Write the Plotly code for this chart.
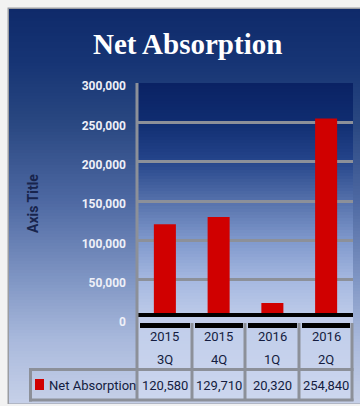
import plotly.graph_objects as go

# ---- data ----
years = ["2015", "2015", "2016", "2016"]
quarters = ["3Q", "4Q", "1Q", "2Q"]
categories = [f"{y} {q}" for y, q in zip(years, quarters)]
net_absorption = [120580, 129710, 20320, 254840]
series_name = "Net Absorption"
y_ticks = [0, 50000, 100000, 150000, 200000, 250000, 300000]

# ---- geometry (pixels) ----
W, H = 360, 406
L, R, T, B = 138, 7, 83, 87
PW, PH = W - L - R, H - T - B


def px(x):
    return (x - L) / PW


def py(y):
    return (H - B - y) / PH


def hex2rgb(h):
    h = h.lstrip("#")
    return tuple(int(h[i:i + 2], 16) for i in (0, 2, 4))


def lerp_color(stops, y):
    for (y0, c0), (y1, c1) in zip(stops, stops[1:]):
        if y0 <= y <= y1:
            t = (y - y0) / (y1 - y0) if y1 > y0 else 0
            a, b = hex2rgb(c0), hex2rgb(c1)
            return "rgb(%d,%d,%d)" % tuple(round(a[i] + (b[i] - a[i]) * t) for i in range(3))
    return stops[-1][1]


def gradient(x0, x1, y0, y1, stops, step=3):
    out = []
    y = y0
    while y < y1:
        yb = min(y + step, y1)
        out.append(dict(type="rect", xref="paper", yref="paper", layer="below",
                        x0=px(x0), x1=px(x1), y0=py(yb + 0.5), y1=py(y),
                        fillcolor=lerp_color(stops, y + step / 2), line_width=0))
        y = yb
    return out


chart_stops = [(9, "#0f2a6a"), (60, "#163474"), (120, "#284680"), (200, "#4d68a2"),
               (280, "#8096c4"), (340, "#a9b9dc"), (403, "#c6d0e8")]
plot_stops = [(83, "#0a2264"), (120, "#0f2c70"), (160, "#24448a"), (200, "#5470aa"),
              (240, "#7f98cc"), (280, "#a5b8e0"), (320, "#c0cdea"), (400, "#ccd6ee")]

shapes = []
# chart frame
shapes.append(dict(type="rect", xref="paper", yref="paper", layer="below",
                   x0=px(7.5), x1=px(362), y0=py(404), y1=py(7.5),
                   fillcolor="#9a9ca2", line_width=0))
shapes += gradient(9, 360, 9, 403, chart_stops)
shapes += gradient(138, 353, 83, 400, plot_stops)

GRID = "#8c9099"


def rect(x0, x1, y0, y1, color, layer="above"):
    return dict(type="rect", xref="paper", yref="paper", layer=layer,
                x0=px(x0), x1=px(x1), y0=py(y1), y1=py(y0),
                fillcolor=color, line_width=0)


# band under the axis: thick black rule, light gap, segmented black rule
shapes.append(rect(137, 353, 313, 317, "#000000"))
shapes.append(rect(137, 353, 317, 323, "#c2cdea"))
col_edges = [137, 192, 245, 299, 352]
for a, b in zip(col_edges[:-1], col_edges[1:]):
    shapes.append(rect(a + 3, b - 2, 323, 328, "#000000"))
# table borders
for xe in col_edges:
    shapes.append(rect(xe - 1.5, xe + 1.5, 323 if xe != 137 else 83, 401, GRID))
shapes.append(rect(29, 353.5, 368, 371, GRID))
shapes.append(rect(29, 353.5, 398.5, 401.5, GRID))
shapes.append(rect(29, 32, 368, 401.5, GRID))
# legend key
shapes.append(rect(35, 44, 379, 390, "#d00000"))

fig = go.Figure(go.Bar(
    x=categories, y=net_absorption, name=series_name,
    marker=dict(color="#d00000", line_width=0),
))

TABLE_TEXT = "#141c40"
annotations = [
    dict(text="<b>Net Absorption</b>", xref="paper", yref="paper",
         x=px(187.5), y=py(44), xanchor="center", yanchor="middle", showarrow=False,
         font=dict(family="Liberation Serif", size=29, color="#ffffff")),
    dict(text="<b>Axis Title</b>", xref="paper", yref="paper", textangle=-90,
         x=px(33), y=py(204), xanchor="center", yanchor="middle", showarrow=False,
         font=dict(family="Roboto", size=14, color="#18244c")),
    dict(text=series_name, xref="paper", yref="paper",
         x=px(47), y=py(385), xanchor="left", yanchor="middle", showarrow=False,
         font=dict(family="Roboto", size=13, color=TABLE_TEXT)),
]
for c, yr, q, v in zip(categories, years, quarters, net_absorption):
    annotations.append(dict(text=yr, xref="x", yref="paper", x=c, y=py(336),
                            xanchor="center", yanchor="middle", showarrow=False,
                            font=dict(family="Roboto", size=13, color=TABLE_TEXT)))
    annotations.append(dict(text=q, xref="x", yref="paper", x=c, y=py(359),
                            xanchor="center", yanchor="middle", showarrow=False,
                            font=dict(family="Roboto", size=13, color=TABLE_TEXT)))
    annotations.append(dict(text=f"{v:,}", xref="x", yref="paper", x=c, y=py(385),
                            xanchor="center", yanchor="middle", showarrow=False,
                            font=dict(family="Roboto", size=13, color=TABLE_TEXT)))

fig.update_layout(
    width=W, height=H,
    margin=dict(l=L, r=R, t=T, b=B, pad=0),
    paper_bgcolor="#f2f2f2",
    plot_bgcolor="rgba(0,0,0,0)",
    showlegend=False,
    bargap=0.59,
    shapes=shapes,
    annotations=annotations,
    xaxis=dict(range=[-0.5, 3.5], showticklabels=False, showgrid=False,
               zeroline=False, showline=False, ticks=""),
    yaxis=dict(range=[0, 300000], tickvals=y_ticks, tickformat=",",
               showgrid=True, gridcolor=GRID, gridwidth=3, zeroline=False,
               showline=False, ticks="", ticklabelstandoff=11, ticklabelshift=3,
               tickfont=dict(family="Roboto", size=12, color="#eef0f8", weight="bold")),
)

fig.write_html("out.html")
